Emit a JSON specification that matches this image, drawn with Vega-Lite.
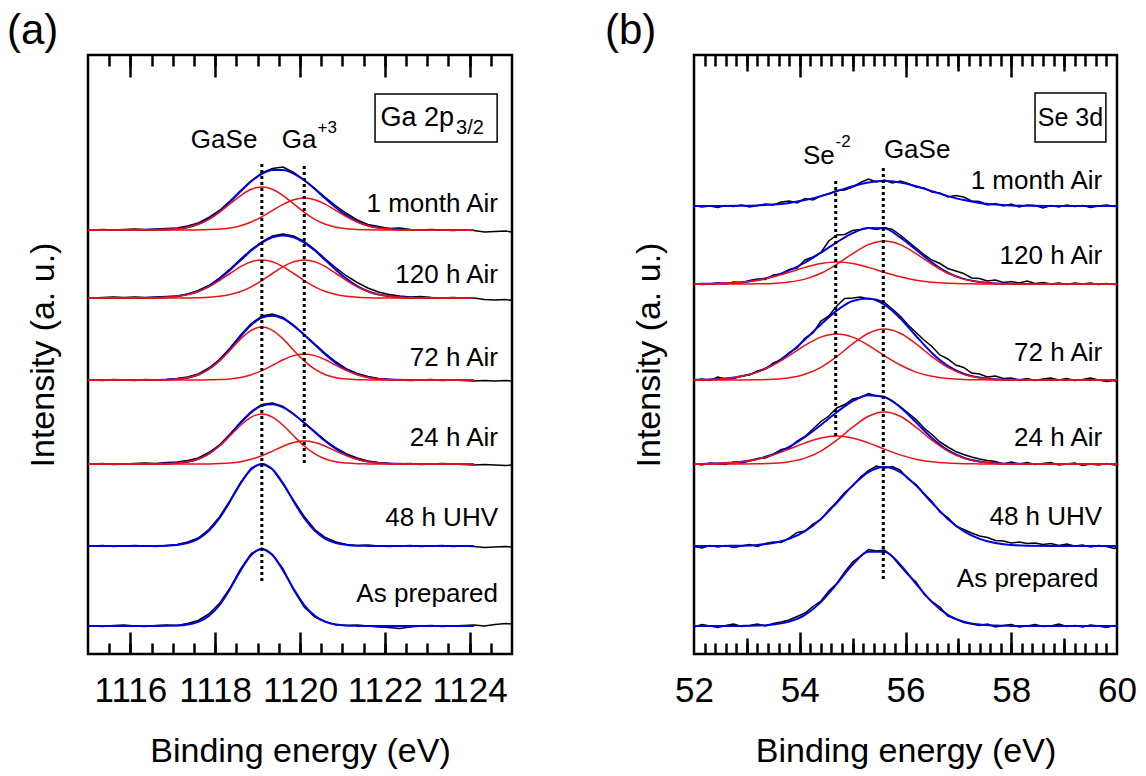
{
"$schema": "https://vega.github.io/schema/vega-lite/v6.json",
"background": "white",
"padding": {"left": 5, "top": 8, "right": 0, "bottom": 0},
"autosize": {"type": "pad"},
"bounds": "flush",
"spacing": 182,
"config": {"view": {"stroke": "black", "strokeWidth": 2.5}, "font": "Liberation Sans", "text": {"font": "Liberation Sans", "color": "black"}},
"datasets": {
"aFit": [
{"x":1115,"b1":28,"b2":108,"b3":190,"b4":274,"b5":356,"b6":424,"r3":190,"h3":190,"r4":274,"h4":274,"r5":356,"h5":356,"r6":424,"h6":424},
{"x":1116.1,"b1":28,"b2":108,"b3":190,"b4":274,"b5":356,"b6":424,"r3":190,"h3":190,"r4":274,"h4":274,"r5":356,"h5":356,"r6":424,"h6":424},
{"x":1116.6,"b1":28,"b2":108,"b3":190,"b4":274,"b5":356.3,"b6":424.2,"r3":190,"h3":190,"r4":274,"h4":274,"r5":356.3,"h5":356,"r6":424.2,"h6":424},
{"x":1117.1,"b1":28.4,"b2":109.1,"b3":190.9,"b4":274.9,"b5":357.7,"b6":425.2,"r3":190.9,"h3":190,"r4":274.9,"h4":274,"r5":357.7,"h5":356,"r6":425.2,"h6":424},
{"x":1117.35,"b1":29.4,"b2":111,"b3":192.2,"b4":276.3,"b5":359.6,"b6":426.8,"r3":192.2,"h3":190,"r4":276.3,"h4":274,"r5":359.5,"h5":356.1,"r6":426.8,"h6":424},
{"x":1117.6,"b1":32.1,"b2":115.2,"b3":195,"b4":279.3,"b5":362.8,"b6":429.9,"r3":195,"h3":190,"r4":279.3,"h4":274,"r5":362.5,"h5":356.3,"r6":429.8,"h6":424.1},
{"x":1117.85,"b1":38.1,"b2":123.2,"b3":200.3,"b4":285,"b5":367.9,"b6":435.1,"r3":200.2,"h3":190.1,"r4":284.8,"h4":274.2,"r5":367.2,"h5":356.7,"r6":434.7,"h6":424.4},
{"x":1118.1,"b1":48.9,"b2":135.8,"b3":208.4,"b4":293.5,"b5":375.1,"b6":442.6,"r3":208,"h3":190.4,"r4":293.1,"h4":274.4,"r5":373.4,"h5":357.7,"r6":441.7,"h6":424.9},
{"x":1118.35,"b1":65,"b2":152.6,"b3":219.2,"b4":304.9,"b5":384,"b6":452.2,"r3":218.2,"h3":191,"r4":303.8,"h4":275.1,"r5":380.5,"h5":359.5,"r6":450.1,"h6":426.1},
{"x":1118.6,"b1":83.6,"b2":170.6,"b3":231.1,"b4":317.7,"b5":393.8,"b6":462.7,"r3":228.8,"h3":192.3,"r4":315.1,"h4":276.6,"r5":387.3,"h5":362.5,"r6":458.4,"h6":428.3},
{"x":1118.85,"b1":99,"b2":184.7,"b3":241.6,"b4":329,"b5":403.4,"b6":472.7,"r3":236.9,"h3":194.7,"r4":323.7,"h4":279.3,"r5":392.2,"h5":367.2,"r6":464.7,"h6":432},
{"x":1119.1,"b1":105,"b2":190,"b3":248.3,"b4":336.4,"b5":411.4,"b6":480.2,"r3":240,"h3":198.3,"r4":327,"h4":283.4,"r5":394,"h5":373.4,"r6":467,"h6":437.2},
{"x":1119.35,"b1":99,"b2":184.7,"b3":249.8,"b4":338.3,"b5":416.7,"b6":484.1,"r3":236.9,"h3":202.9,"r4":323.7,"h4":288.6,"r5":392.2,"h5":380.5,"r6":464.7,"h6":443.4},
{"x":1119.6,"b1":83.6,"b2":170.6,"b3":246.6,"b4":335.3,"b5":418.6,"b6":484,"r3":228.8,"h3":207.8,"r4":315.1,"h4":294.2,"r5":387.3,"h5":387.3,"r6":458.4,"h6":449.6},
{"x":1119.85,"b1":65,"b2":152.6,"b3":239.8,"b4":328.2,"b5":416.7,"b6":480.4,"r3":218.2,"h3":211.6,"r4":303.8,"h4":298.4,"r5":380.5,"h5":392.2,"r6":450.1,"h6":454.3},
{"x":1120.1,"b1":48.9,"b2":135.8,"b3":231,"b4":319.1,"b5":411.4,"b6":473.7,"r3":208,"h3":213,"r4":293.1,"h4":300,"r5":373.4,"h5":394,"r6":441.7,"h6":456},
{"x":1120.35,"b1":38.1,"b2":123.2,"b3":221.8,"b4":309.2,"b5":403.4,"b6":465,"r3":200.2,"h3":211.6,"r4":284.8,"h4":298.4,"r5":367.2,"h5":392.2,"r6":434.7,"h6":454.3},
{"x":1120.6,"b1":32.1,"b2":115.2,"b3":212.8,"b4":299.5,"b5":393.8,"b6":455.4,"r3":195,"h3":207.8,"r4":279.3,"h4":294.2,"r5":362.5,"h5":387.3,"r6":429.8,"h6":449.6},
{"x":1120.85,"b1":29.4,"b2":111,"b3":205.1,"b4":290.9,"b5":384,"b6":446.2,"r3":192.2,"h3":202.9,"r4":276.3,"h4":288.6,"r5":359.5,"h5":380.5,"r6":426.8,"h6":443.4},
{"x":1121.1,"b1":28.4,"b2":109.1,"b3":199.2,"b4":284.3,"b5":375.1,"b6":438.4,"r3":190.9,"h3":198.3,"r4":274.9,"h4":283.4,"r5":357.7,"h5":373.4,"r6":425.2,"h6":437.2},
{"x":1121.35,"b1":28.1,"b2":108.3,"b3":195,"b4":279.6,"b5":367.9,"b6":432.5,"r3":190.3,"h3":194.7,"r4":274.3,"h4":279.3,"r5":356.7,"h5":367.2,"r6":424.5,"h6":432},
{"x":1121.6,"b1":28,"b2":108.1,"b3":192.4,"b4":276.7,"b5":362.8,"b6":428.5,"r3":190.1,"h3":192.3,"r4":274.1,"h4":276.6,"r5":356.3,"h5":362.5,"r6":424.2,"h6":428.3},
{"x":1121.85,"b1":28,"b2":108,"b3":191,"b4":275.1,"b5":359.6,"b6":426.2,"r3":190,"h3":191,"r4":274,"h4":275.1,"r5":356.1,"h5":359.5,"r6":424.1,"h6":426.1},
{"x":1122.6,"b1":28,"b2":108,"b3":190,"b4":274,"b5":356.3,"b6":424.1,"r3":190,"h3":190,"r4":274,"h4":274,"r5":356,"h5":356.3,"r6":424,"h6":424.1},
{"x":1123.35,"b1":28,"b2":108,"b3":190,"b4":274,"b5":356,"b6":424,"r3":190,"h3":190,"r4":274,"h4":274,"r5":356,"h5":356,"r6":424,"h6":424},
{"x":1124.1,"b1":28,"b2":108,"b3":190,"b4":274,"b5":356,"b6":424,"r3":190,"h3":190,"r4":274,"h4":274,"r5":356,"h5":356,"r6":424,"h6":424}
],
"aRaw": [
{"x":1115,"k1":28.5,"k2":108.5,"k3":190.5,"k4":274.5,"k5":356.5,"k6":424.5},
{"x":1115.1,"k1":28,"k2":108,"k3":190,"k4":274,"k5":356,"k6":424},
{"x":1115.35,"k1":27.5,"k2":108.5,"k3":190.5,"k4":273.5,"k5":356.5,"k6":424.5},
{"x":1115.6,"k1":28.5,"k2":107.5,"k3":189.5,"k4":274.5,"k5":357,"k6":424},
{"x":1115.85,"k1":29,"k2":108,"k3":190,"k4":274,"k5":356.5,"k6":424.5},
{"x":1116.1,"k1":28,"k2":108.5,"k3":190.5,"k4":273.5,"k5":357,"k6":425},
{"x":1116.35,"k1":27.5,"k2":108,"k3":191,"k4":274.5,"k5":356.5,"k6":424.5},
{"x":1116.6,"k1":28.5,"k2":107.5,"k3":190.5,"k4":274,"k5":357,"k6":425},
{"x":1116.85,"k1":29,"k2":108.5,"k3":191.5,"k4":274.5,"k5":357.5,"k6":425.5},
{"x":1117.1,"k1":28.5,"k2":109.5,"k3":192,"k4":275.5,"k5":358,"k6":426},
{"x":1117.35,"k1":30.5,"k2":112,"k3":193.5,"k4":277,"k5":360,"k6":428},
{"x":1117.6,"k1":33.5,"k2":116,"k3":196,"k4":280,"k5":363.5,"k6":431},
{"x":1117.85,"k1":40,"k2":124.5,"k3":201.5,"k4":286,"k5":368.5,"k6":436.5},
{"x":1118.1,"k1":50.5,"k2":137,"k3":209,"k4":294.5,"k5":376,"k6":443.5},
{"x":1118.35,"k1":66,"k2":153.5,"k3":220,"k4":306,"k5":385,"k6":453},
{"x":1118.6,"k1":85,"k2":171.5,"k3":232,"k4":319,"k5":395,"k6":463.5},
{"x":1118.85,"k1":100.5,"k2":186,"k3":242.5,"k4":330.5,"k5":404.5,"k6":473},
{"x":1119.1,"k1":106,"k2":190.5,"k3":249.5,"k4":338,"k5":412,"k6":481},
{"x":1119.35,"k1":99.5,"k2":185,"k3":251,"k4":340,"k5":418,"k6":485.5},
{"x":1119.6,"k1":85,"k2":170,"k3":247.5,"k4":336.5,"k5":420,"k6":487},
{"x":1119.85,"k1":64,"k2":153.5,"k3":240,"k4":329,"k5":418,"k6":481.5},
{"x":1120.1,"k1":47,"k2":137.5,"k3":231.5,"k4":319.5,"k5":412.5,"k6":474},
{"x":1120.35,"k1":37,"k2":124.5,"k3":222.5,"k4":310,"k5":404.5,"k6":465.5},
{"x":1120.6,"k1":32.5,"k2":116.5,"k3":213.5,"k4":300.5,"k5":395,"k6":456.5},
{"x":1120.85,"k1":29,"k2":112,"k3":206,"k4":292,"k5":386,"k6":448},
{"x":1121.1,"k1":28.5,"k2":109.5,"k3":200,"k4":285,"k5":378,"k6":440.5},
{"x":1121.35,"k1":29,"k2":108.5,"k3":196,"k4":280.5,"k5":371.5,"k6":434},
{"x":1121.6,"k1":28,"k2":109,"k3":193,"k4":277.5,"k5":366,"k6":429.5},
{"x":1121.85,"k1":27,"k2":108,"k3":191.5,"k4":275.5,"k5":362,"k6":427.5},
{"x":1122.1,"k1":26.5,"k2":107.5,"k3":190.5,"k4":274.5,"k5":359.5,"k6":425.5},
{"x":1122.35,"k1":25.5,"k2":108,"k3":190,"k4":274,"k5":358,"k6":426},
{"x":1122.6,"k1":27,"k2":108.5,"k3":190.5,"k4":273.5,"k5":357,"k6":424.5},
{"x":1122.85,"k1":28,"k2":107.5,"k3":189.5,"k4":274,"k5":357.5,"k6":424},
{"x":1123.1,"k1":28.5,"k2":108,"k3":190,"k4":274.5,"k5":356.5,"k6":424.5},
{"x":1123.35,"k1":27.5,"k2":108.5,"k3":190.5,"k4":273.5,"k5":356,"k6":424},
{"x":1123.6,"k1":28,"k2":107.5,"k3":190,"k4":274,"k5":356.5,"k6":423.5},
{"x":1123.85,"k1":28.5,"k2":108,"k3":189.5,"k4":273.5,"k5":356,"k6":424},
{"x":1124.1,"k1":29,"k2":107.5,"k3":189,"k4":273,"k5":356,"k6":423.5},
{"x":1124.35,"k1":28,"k2":106.5,"k3":189.5,"k4":273.5,"k5":354.5,"k6":422},
{"x":1124.6,"k1":29.5,"k2":107,"k3":189,"k4":273,"k5":354,"k6":422.5},
{"x":1124.85,"k1":30.5,"k2":107.5,"k3":188.5,"k4":273.5,"k5":354.5,"k6":423},
{"x":1125,"k1":30,"k2":107,"k3":189,"k4":273,"k5":353.5,"k6":422}
],
"bFit": [
{"x":52.0,"b1":28,"b2":108,"b3":190.1,"b4":274.2,"b5":370.1,"b6":448,"s3":190.1,"g3":190,"s4":274.2,"g4":274,"s5":370.1,"g5":370},
{"x":52.3,"b1":28,"b2":108,"b3":190.3,"b4":274.5,"b5":370.2,"b6":448,"s3":190.3,"g3":190,"s4":274.5,"g4":274,"s5":370.2,"g5":370},
{"x":52.6,"b1":28,"b2":108.1,"b3":190.9,"b4":275.5,"b5":370.7,"b6":448.1,"s3":190.9,"g3":190,"s4":275.5,"g4":274,"s5":370.7,"g5":370},
{"x":52.9,"b1":28.1,"b2":108.3,"b3":192.3,"b4":277.8,"b5":371.8,"b6":448.2,"s3":192.2,"g3":190.1,"s4":277.7,"g4":274.1,"s5":371.8,"g5":370},
{"x":53.2,"b1":28.4,"b2":109.1,"b3":195,"b4":282.1,"b5":374,"b6":448.6,"s3":194.8,"g3":190.2,"s4":281.9,"g4":274.2,"s5":373.8,"g5":370.2},
{"x":53.5,"b1":29.4,"b2":111,"b3":199.8,"b4":289.7,"b5":377.8,"b6":449.5,"s3":199.1,"g3":190.7,"s4":289,"g4":274.7,"s5":377.2,"g5":370.6},
{"x":53.8,"b1":32.4,"b2":115.1,"b3":207.2,"b4":300.6,"b5":383.6,"b6":451.1,"s3":204.9,"g3":192.3,"s4":298.4,"g4":276.2,"s5":381.7,"g5":371.9},
{"x":54.1,"b1":39.2,"b2":122.9,"b3":217,"b4":314.5,"b5":391.5,"b6":453.9,"s3":211.1,"g3":195.9,"s4":308.7,"g4":279.8,"s5":386.6,"g5":374.9},
{"x":54.4,"b1":51.9,"b2":135.1,"b3":229,"b4":329.6,"b5":401.2,"b6":457.9,"s3":216.1,"g3":202.9,"s4":316.9,"g4":286.7,"s5":390.5,"g5":380.7},
{"x":54.7,"b1":70.1,"b2":151.3,"b3":241.8,"b4":343.4,"b5":411.7,"b6":462.8,"s3":218,"g3":213.8,"s4":320,"g4":297.4,"s5":392,"g5":389.7},
{"x":55.0,"b1":89.4,"b2":168.4,"b3":252.9,"b4":353,"b5":420.9,"b6":467.8,"s3":216.1,"g3":226.8,"s4":316.9,"g4":310.1,"s5":390.5,"g5":400.4},
{"x":55.3,"b1":102.3,"b2":181.9,"b3":258.8,"b4":355.5,"b5":426,"b6":471.6,"s3":211.1,"g3":237.7,"s4":308.7,"g4":320.8,"s5":386.6,"g5":409.4},
{"x":55.6,"b1":102.3,"b2":187,"b3":256.9,"b4":349.4,"b5":425.7,"b6":473,"s3":204.9,"g3":242,"s4":298.4,"g4":325,"s5":381.7,"g5":413},
{"x":55.9,"b1":89.4,"b2":181.9,"b3":246.8,"b4":335.8,"b5":416.6,"b6":471.6,"s3":199.1,"g3":237.7,"s4":289,"g4":320.8,"s5":377.2,"g5":409.4},
{"x":56.2,"b1":70.1,"b2":168.4,"b3":231.6,"b4":318,"b5":404.2,"b6":467.8,"s3":194.8,"g3":226.8,"s4":281.9,"g4":310.1,"s5":373.8,"g5":400.4},
{"x":56.5,"b1":51.9,"b2":151.3,"b3":216,"b4":301.1,"b5":391.5,"b6":462.8,"s3":192.2,"g3":213.8,"s4":277.7,"g4":297.4,"s5":371.8,"g5":389.7},
{"x":56.8,"b1":39.2,"b2":135.1,"b3":203.8,"b4":288.2,"b5":381.4,"b6":457.9,"s3":190.9,"g3":202.9,"s4":275.5,"g4":286.7,"s5":370.7,"g5":380.7},
{"x":57.1,"b1":32.4,"b2":122.9,"b3":196.2,"b4":280.3,"b5":375.1,"b6":453.9,"s3":190.3,"g3":195.9,"s4":274.5,"g4":279.8,"s5":370.2,"g5":374.9},
{"x":57.4,"b1":29.4,"b2":115.1,"b3":192.4,"b4":276.4,"b5":372,"b6":451.1,"s3":190.1,"g3":192.3,"s4":274.2,"g4":276.2,"s5":370.1,"g5":371.9},
{"x":57.7,"b1":28.4,"b2":111,"b3":190.7,"b4":274.7,"b5":370.6,"b6":449.5,"s3":190,"g3":190.7,"s4":274,"g4":274.7,"s5":370,"g5":370.6},
{"x":58.0,"b1":28.1,"b2":109.1,"b3":190.2,"b4":274.2,"b5":370.2,"b6":448.6,"s3":190,"g3":190.2,"s4":274,"g4":274.2,"s5":370,"g5":370.2},
{"x":58.3,"b1":28,"b2":108.3,"b3":190.1,"b4":274.1,"b5":370,"b6":448.2,"s3":190,"g3":190.1,"s4":274,"g4":274.1,"s5":370,"g5":370},
{"x":59.0,"b1":28,"b2":108,"b3":190,"b4":274,"b5":370,"b6":448,"s3":190,"g3":190,"s4":274,"g4":274,"s5":370,"g5":370},
{"x":60.0,"b1":28,"b2":108,"b3":190,"b4":274,"b5":370,"b6":448,"s3":190,"g3":190,"s4":274,"g4":274,"s5":370,"g5":370}
],
"bRaw": [
{"x":52.0,"k1":27,"k2":107.5,"k3":190.5,"k4":273.5,"k5":370.5,"k6":448.5},
{"x":52.15,"k1":29.5,"k2":106,"k3":189,"k4":275,"k5":369.5,"k6":447},
{"x":52.3,"k1":28,"k2":108.5,"k3":191,"k4":273.5,"k5":370,"k6":448},
{"x":52.45,"k1":26.5,"k2":107,"k3":190,"k4":277,"k5":371,"k6":446.5},
{"x":52.6,"k1":28.5,"k2":108.5,"k3":189.5,"k4":275,"k5":370,"k6":448.5},
{"x":52.75,"k1":30,"k2":106.5,"k3":192,"k4":275.5,"k5":372,"k6":447.5},
{"x":52.9,"k1":27.5,"k2":108,"k3":191,"k4":278,"k5":371,"k6":449},
{"x":53.05,"k1":28.5,"k2":109.5,"k3":193,"k4":279,"k5":373.5,"k6":447},
{"x":53.2,"k1":30,"k2":107.5,"k3":195.5,"k4":283,"k5":375,"k6":448.5},
{"x":53.35,"k1":28,"k2":110.5,"k3":196,"k4":285,"k5":374.5,"k6":450},
{"x":53.5,"k1":30.5,"k2":112,"k3":199.5,"k4":291,"k5":379,"k6":449},
{"x":53.65,"k1":32,"k2":111.5,"k3":204.5,"k4":294,"k5":380,"k6":452},
{"x":53.8,"k1":34,"k2":116,"k3":206,"k4":301.5,"k5":384.5,"k6":453},
{"x":53.95,"k1":37.5,"k2":121.5,"k3":213,"k4":306,"k5":386,"k6":451},
{"x":54.1,"k1":41,"k2":123,"k3":217.5,"k4":316,"k5":394,"k6":455.5},
{"x":54.25,"k1":47.5,"k2":130,"k3":225,"k4":321,"k5":397,"k6":454},
{"x":54.4,"k1":53,"k2":134.5,"k3":232.5,"k4":333,"k5":401.5,"k6":458},
{"x":54.55,"k1":63,"k2":144,"k3":238,"k4":338,"k5":413,"k6":460},
{"x":54.7,"k1":70.5,"k2":152,"k3":246,"k4":348,"k5":419,"k6":463.5},
{"x":54.85,"k1":82,"k2":161.5,"k3":249.5,"k4":355.5,"k5":419.5,"k6":464},
{"x":55.0,"k1":92,"k2":168,"k3":255,"k4":356,"k5":423.5,"k6":467},
{"x":55.15,"k1":98,"k2":177,"k3":256.5,"k4":357,"k5":424.5,"k6":471.5},
{"x":55.3,"k1":104.5,"k2":183.5,"k3":260.5,"k4":355,"k5":426,"k6":475},
{"x":55.45,"k1":103,"k2":188,"k3":258,"k4":354.5,"k5":424.5,"k6":472},
{"x":55.6,"k1":104,"k2":186,"k3":257.5,"k4":351.5,"k5":426.5,"k6":474},
{"x":55.75,"k1":97.5,"k2":187.5,"k3":253,"k4":345,"k5":424.5,"k6":471},
{"x":55.9,"k1":88,"k2":184,"k3":247.5,"k4":338,"k5":419,"k6":473},
{"x":56.05,"k1":79,"k2":175,"k3":241,"k4":329,"k5":412.5,"k6":470.5},
{"x":56.2,"k1":72,"k2":169.5,"k3":234.5,"k4":321.5,"k5":406,"k6":467},
{"x":56.35,"k1":60,"k2":160.5,"k3":226,"k4":314,"k5":399.5,"k6":466},
{"x":56.5,"k1":52.5,"k2":152.5,"k3":219.5,"k4":307.5,"k5":394,"k6":462},
{"x":56.65,"k1":47,"k2":142,"k3":212,"k4":299,"k5":390.5,"k6":461},
{"x":56.8,"k1":38,"k2":136.5,"k3":207,"k4":295,"k5":385.5,"k6":457},
{"x":56.95,"k1":35,"k2":128,"k3":202.5,"k4":289,"k5":383,"k6":458.5},
{"x":57.1,"k1":31.5,"k2":124.5,"k3":199.5,"k4":286.5,"k5":380.5,"k6":457},
{"x":57.25,"k1":30,"k2":121,"k3":197,"k4":281,"k5":376,"k6":453},
{"x":57.4,"k1":28.5,"k2":118,"k3":195,"k4":280,"k5":375.5,"k6":452.5},
{"x":57.55,"k1":30,"k2":116.5,"k3":193.5,"k4":277,"k5":373,"k6":449},
{"x":57.7,"k1":27,"k2":113.5,"k3":192.5,"k4":278,"k5":374,"k6":450.5},
{"x":57.85,"k1":28.5,"k2":113,"k3":190,"k4":275.5,"k5":371.5,"k6":448},
{"x":58.0,"k1":29.5,"k2":111,"k3":192,"k4":276,"k5":372.5,"k6":450},
{"x":58.15,"k1":27,"k2":112,"k3":190,"k4":274,"k5":371,"k6":447},
{"x":58.3,"k1":28,"k2":110.5,"k3":191.5,"k4":275.5,"k5":373,"k6":449},
{"x":58.45,"k1":29.5,"k2":111,"k3":189.5,"k4":273.5,"k5":370.5,"k6":448.5},
{"x":58.6,"k1":27.5,"k2":109.5,"k3":190.5,"k4":275,"k5":371.5,"k6":446},
{"x":58.75,"k1":28,"k2":110.5,"k3":191.5,"k4":276,"k5":370,"k6":448.5},
{"x":58.9,"k1":30,"k2":108.5,"k3":189,"k4":274,"k5":371,"k6":447},
{"x":59.05,"k1":27.5,"k2":110,"k3":190,"k4":275.5,"k5":369.5,"k6":449},
{"x":59.2,"k1":28.5,"k2":108,"k3":191,"k4":273.5,"k5":371,"k6":447.5},
{"x":59.35,"k1":27,"k2":109,"k3":188.5,"k4":274.5,"k5":370,"k6":448.5},
{"x":59.5,"k1":29,"k2":107,"k3":190,"k4":276,"k5":371,"k6":446.5},
{"x":59.65,"k1":28,"k2":108.5,"k3":189,"k4":274,"k5":369.5,"k6":448},
{"x":59.8,"k1":26.5,"k2":107.5,"k3":190.5,"k4":272.5,"k5":370.5,"k6":449},
{"x":59.95,"k1":28.5,"k2":105.5,"k3":189,"k4":273.5,"k5":369.5,"k6":447.5},
{"x":60.0,"k1":27.5,"k2":107,"k3":190,"k4":272,"k5":370,"k6":448}
],
"aLab": [{"t":"1 month Air","x":1124.67,"y":450},{"t":"120 h Air","x":1124.67,"y":379},{"t":"72 h Air","x":1124.67,"y":296},{"t":"24 h Air","x":1124.67,"y":216},{"t":"48 h UHV","x":1124.67,"y":136},{"t":"As prepared","x":1124.67,"y":60}],
"aAnn": [{"t":"GaSe","x":1118.21,"y":514},{"t":"Ga","x":1119.98,"y":514}],
"aSup": [{"t":"+3","x":1120.64,"y":526}],
"aBox": [{"x1":1121.77,"x2":1124.65,"y1":512,"y2":560}],
"aBoxT": [{"t":"Ga 2p","x":1121.9,"y":528}],
"aSub": [{"t":"3/2","x":1123.68,"y":520}],
"aRule": [{"x":1119.1,"y1":73,"y2":493},{"x":1120.1,"y1":191,"y2":490}],
"bLab": [{"t":"1 month Air","x":59.72,"y":473},{"t":"120 h Air","x":59.72,"y":398},{"t":"72 h Air","x":59.72,"y":301},{"t":"24 h Air","x":59.72,"y":216},{"t":"48 h UHV","x":59.72,"y":137},{"t":"As prepared","x":59.65,"y":75}],
"bAnn": [{"t":"Se","x":54.36,"y":498},{"t":"GaSe","x":56.22,"y":504}],
"bSup": [{"t":"-2","x":54.82,"y":512}],
"bBox": [{"x1":58.45,"x2":59.79,"y1":512,"y2":561}],
"bBoxT": [{"t":"Se 3d","x":59.12,"y":536}],
"bRule": [{"x":54.68,"y1":218,"y2":475},{"x":55.58,"y1":75,"y2":486}]
},
"hconcat": [
{
"width": 424, "height": 599,
"title": {"text": "(a)", "anchor": "start", "frame": "group", "dx": -81, "offset": -32, "fontSize": 42, "fontWeight": "normal", "font": "Liberation Sans", "baseline": "alphabetic", "color": "black"},
"resolve": {"axis": {"x": "independent", "y": "independent"}},
"layer": [
{"data": {"name": "aRaw"}, "transform": [{"fold": ["k1","k2","k3","k4","k5","k6"], "as": ["s","v"]}],
 "mark": {"type": "line", "color": "black", "strokeWidth": 1.5},
 "encoding": {
  "x": {"field": "x", "type": "quantitative", "scale": {"domain": [1115, 1125], "nice": false, "zero": false},
        "axis": {"orient": "bottom", "values": [1116,1118,1120,1122,1124], "ticks": false, "domain": false, "grid": false, "labelFontSize": 35, "labelPadding": 19, "labelFlush": false, "labelOverlap": false, "labelBound": false, "labelColor": "black", "labelFont": "Liberation Sans", "format": "d", "title": "Binding energy (eV)", "titleFontSize": 34, "titleFontWeight": "normal", "titleFont": "Liberation Sans", "titlePadding": 26, "titleColor": "black"}},
  "y": {"field": "v", "type": "quantitative", "scale": {"domain": [0, 599], "nice": false, "zero": false},
        "axis": {"orient": "left", "labels": false, "ticks": false, "domain": false, "grid": false, "title": "Intensity (a. u.)", "titleFontSize": 34, "titleFontWeight": "normal", "titleFont": "Liberation Sans", "titlePadding": 28, "titleColor": "black"}},
  "detail": {"field": "s"}}},
{"data": {"name": "aFit"}, "transform": [{"fold": ["b1","b2","b3","b4","b5","b6"], "as": ["s","v"]}],
 "mark": {"type": "line", "color": "#0000e6", "strokeWidth": 2, "interpolate": "monotone"},
 "encoding": {
  "x": {"field": "x", "type": "quantitative", "axis": {"orient": "bottom", "values": [1116,1118,1120,1122,1124], "labels": false, "domain": false, "grid": false, "tickSize": 22, "offset": -22, "tickWidth": 2.5, "tickColor": "black", "title": null}},
  "y": {"field": "v", "type": "quantitative", "axis": null},
  "detail": {"field": "s"}}},
{"data": {"name": "aFit"}, "transform": [{"fold": ["r3","h3","r4","h4","r5","h5","r6","h6"], "as": ["s","v"]}],
 "mark": {"type": "line", "color": "#ee1111", "strokeWidth": 1.5, "interpolate": "monotone"},
 "encoding": {
  "x": {"field": "x", "type": "quantitative", "axis": {"orient": "bottom", "values": [1115.5,1116,1116.5,1117,1117.5,1118,1118.5,1119,1119.5,1120,1120.5,1121,1121.5,1122,1122.5,1123,1123.5,1124,1124.5], "labels": false, "domain": false, "grid": false, "tickSize": 11, "offset": -11, "tickWidth": 2.5, "tickColor": "black", "title": null}},
  "y": {"field": "v", "type": "quantitative", "axis": null},
  "detail": {"field": "s"}}},
{"data": {"name": "aRule"},
 "mark": {"type": "rule", "color": "black", "strokeWidth": 3, "strokeDash": [3, 3]},
 "encoding": {
  "x": {"field": "x", "type": "quantitative", "axis": {"orient": "top", "values": [1116,1118,1120,1122,1124], "labels": false, "domain": false, "grid": false, "tickSize": 22, "offset": -22, "tickWidth": 2.5, "tickColor": "black", "title": null}},
  "y": {"field": "y1", "type": "quantitative", "axis": null},
  "y2": {"field": "y2"}}},
{"data": {"name": "aLab"},
 "mark": {"type": "text", "align": "right", "baseline": "middle", "fontSize": 26, "font": "Liberation Sans", "color": "black"},
 "encoding": {
  "x": {"field": "x", "type": "quantitative", "axis": {"orient": "top", "values": [1115.5,1116,1116.5,1117,1117.5,1118,1118.5,1119,1119.5,1120,1120.5,1121,1121.5,1122,1122.5,1123,1123.5,1124,1124.5], "labels": false, "domain": false, "grid": false, "tickSize": 11, "offset": -11, "tickWidth": 2.5, "tickColor": "black", "title": null}},
  "y": {"field": "y", "type": "quantitative", "axis": null},
  "text": {"field": "t"}}},
{"data": {"name": "aAnn"},
 "mark": {"type": "text", "align": "center", "baseline": "middle", "fontSize": 26, "font": "Liberation Sans", "color": "black"},
 "encoding": {"x": {"field": "x", "type": "quantitative", "axis": null}, "y": {"field": "y", "type": "quantitative", "axis": null}, "text": {"field": "t"}}},
{"data": {"name": "aSup"},
 "mark": {"type": "text", "align": "center", "baseline": "middle", "fontSize": 17, "font": "Liberation Sans", "color": "black"},
 "encoding": {"x": {"field": "x", "type": "quantitative", "axis": null}, "y": {"field": "y", "type": "quantitative", "axis": null}, "text": {"field": "t"}}},
{"data": {"name": "aBox"},
 "mark": {"type": "rect", "fill": "white", "stroke": "black", "strokeWidth": 1.5},
 "encoding": {"x": {"field": "x1", "type": "quantitative", "axis": null}, "x2": {"field": "x2"}, "y": {"field": "y1", "type": "quantitative", "axis": null}, "y2": {"field": "y2"}}},
{"data": {"name": "aBoxT"},
 "mark": {"type": "text", "align": "left", "baseline": "alphabetic", "fontSize": 27, "font": "Liberation Sans", "color": "black"},
 "encoding": {"x": {"field": "x", "type": "quantitative", "axis": null}, "y": {"field": "y", "type": "quantitative", "axis": null}, "text": {"field": "t"}}},
{"data": {"name": "aSub"},
 "mark": {"type": "text", "align": "left", "baseline": "alphabetic", "fontSize": 20, "font": "Liberation Sans", "color": "black"},
 "encoding": {"x": {"field": "x", "type": "quantitative", "axis": null}, "y": {"field": "y", "type": "quantitative", "axis": null}, "text": {"field": "t"}}}
]
},
{
"width": 423, "height": 599,
"title": {"text": "(b)", "anchor": "start", "frame": "group", "dx": -89, "offset": -32, "fontSize": 42, "fontWeight": "normal", "font": "Liberation Sans", "baseline": "alphabetic", "color": "black"},
"resolve": {"axis": {"x": "independent", "y": "independent"}},
"layer": [
{"data": {"name": "bRaw"}, "transform": [{"fold": ["k1","k2","k3","k4","k5","k6"], "as": ["s","v"]}],
 "mark": {"type": "line", "color": "black", "strokeWidth": 1.5},
 "encoding": {
  "x": {"field": "x", "type": "quantitative", "scale": {"domain": [52, 60], "nice": false, "zero": false},
        "axis": {"orient": "bottom", "values": [52,54,56,58,60], "ticks": false, "domain": false, "grid": false, "labelFontSize": 35, "labelPadding": 19, "labelFlush": false, "labelOverlap": false, "labelBound": false, "labelColor": "black", "labelFont": "Liberation Sans", "format": "d", "title": "Binding energy (eV)", "titleFontSize": 34, "titleFontWeight": "normal", "titleFont": "Liberation Sans", "titlePadding": 26, "titleColor": "black"}},
  "y": {"field": "v", "type": "quantitative", "scale": {"domain": [0, 599], "nice": false, "zero": false},
        "axis": {"orient": "left", "labels": false, "ticks": false, "domain": false, "grid": false, "title": "Intensity (a. u.)", "titleFontSize": 34, "titleFontWeight": "normal", "titleFont": "Liberation Sans", "titlePadding": 28, "titleColor": "black"}},
  "detail": {"field": "s"}}},
{"data": {"name": "bFit"}, "transform": [{"fold": ["b1","b2","b3","b4","b5","b6"], "as": ["s","v"]}],
 "mark": {"type": "line", "color": "#0000e6", "strokeWidth": 2, "interpolate": "monotone"},
 "encoding": {
  "x": {"field": "x", "type": "quantitative", "axis": {"orient": "bottom", "values": [54,56,58], "labels": false, "domain": false, "grid": false, "tickSize": 22, "offset": -22, "tickWidth": 2.5, "tickColor": "black", "title": null}},
  "y": {"field": "v", "type": "quantitative", "axis": null},
  "detail": {"field": "s"}}},
{"data": {"name": "bFit"}, "transform": [{"fold": ["s3","g3","s4","g4","s5","g5"], "as": ["s","v"]}],
 "mark": {"type": "line", "color": "#ee1111", "strokeWidth": 1.5, "interpolate": "monotone"},
 "encoding": {
  "x": {"field": "x", "type": "quantitative", "axis": {"orient": "bottom", "values": [53,55,57,59], "labels": false, "domain": false, "grid": false, "tickSize": 16, "offset": -16, "tickWidth": 2.5, "tickColor": "black", "title": null}},
  "y": {"field": "v", "type": "quantitative", "axis": null},
  "detail": {"field": "s"}}},
{"data": {"name": "bRule"},
 "mark": {"type": "rule", "color": "black", "strokeWidth": 3, "strokeDash": [3, 3]},
 "encoding": {
  "x": {"field": "x", "type": "quantitative", "axis": {"orient": "bottom", "values": [52.2,52.4,52.6,52.8,53,53.2,53.4,53.6,53.8,54,54.2,54.4,54.6,54.8,55,55.2,55.4,55.6,55.8,56,56.2,56.4,56.6,56.8,57,57.2,57.4,57.6,57.8,58,58.2,58.4,58.6,58.8,59,59.2,59.4,59.6,59.8], "labels": false, "domain": false, "grid": false, "tickSize": 11, "offset": -11, "tickWidth": 2.5, "tickColor": "black", "title": null}},
  "y": {"field": "y1", "type": "quantitative", "axis": null},
  "y2": {"field": "y2"}}},
{"data": {"name": "bLab"},
 "mark": {"type": "text", "align": "right", "baseline": "middle", "fontSize": 26, "font": "Liberation Sans", "color": "black"},
 "encoding": {
  "x": {"field": "x", "type": "quantitative", "axis": {"orient": "top", "values": [54,56,58], "labels": false, "domain": false, "grid": false, "tickSize": 22, "offset": -22, "tickWidth": 2.5, "tickColor": "black", "title": null}},
  "y": {"field": "y", "type": "quantitative", "axis": null},
  "text": {"field": "t"}}},
{"data": {"name": "bAnn"},
 "mark": {"type": "text", "align": "center", "baseline": "middle", "fontSize": 26, "font": "Liberation Sans", "color": "black"},
 "encoding": {
  "x": {"field": "x", "type": "quantitative", "axis": {"orient": "top", "values": [53,55,57,59], "labels": false, "domain": false, "grid": false, "tickSize": 16, "offset": -16, "tickWidth": 2.5, "tickColor": "black", "title": null}},
  "y": {"field": "y", "type": "quantitative", "axis": null},
  "text": {"field": "t"}}},
{"data": {"name": "bSup"},
 "mark": {"type": "text", "align": "center", "baseline": "middle", "fontSize": 17, "font": "Liberation Sans", "color": "black"},
 "encoding": {
  "x": {"field": "x", "type": "quantitative", "axis": {"orient": "top", "values": [52.2,52.4,52.6,52.8,53,53.2,53.4,53.6,53.8,54,54.2,54.4,54.6,54.8,55,55.2,55.4,55.6,55.8,56,56.2,56.4,56.6,56.8,57,57.2,57.4,57.6,57.8,58,58.2,58.4,58.6,58.8,59,59.2,59.4,59.6,59.8], "labels": false, "domain": false, "grid": false, "tickSize": 11, "offset": -11, "tickWidth": 2.5, "tickColor": "black", "title": null}},
  "y": {"field": "y", "type": "quantitative", "axis": null},
  "text": {"field": "t"}}},
{"data": {"name": "bBox"},
 "mark": {"type": "rect", "fill": "white", "stroke": "black", "strokeWidth": 1.5},
 "encoding": {"x": {"field": "x1", "type": "quantitative", "axis": null}, "x2": {"field": "x2"}, "y": {"field": "y1", "type": "quantitative", "axis": null}, "y2": {"field": "y2"}}},
{"data": {"name": "bBoxT"},
 "mark": {"type": "text", "align": "center", "baseline": "middle", "fontSize": 25, "font": "Liberation Sans", "color": "black"},
 "encoding": {"x": {"field": "x", "type": "quantitative", "axis": null}, "y": {"field": "y", "type": "quantitative", "axis": null}, "text": {"field": "t"}}}
]
}
]
}
